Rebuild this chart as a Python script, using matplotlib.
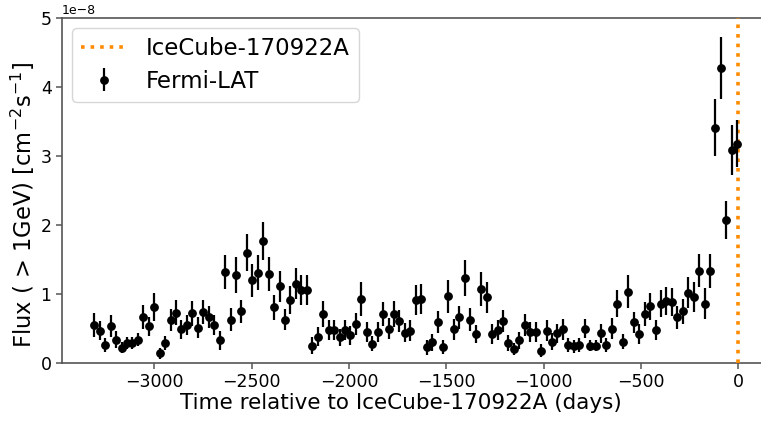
import matplotlib
matplotlib.use("Agg")
import matplotlib.pyplot as plt

# 28-day Fermi-LAT light-curve bins, days relative to the neutrino alert
days = [
    -3309, -3281, -3253, -3225, -3197, -3169, -3141, -3113, -3085, -3057,
    -3029, -3001, -2973, -2945, -2917, -2889, -2861, -2833, -2805, -2777,
    -2749, -2721, -2693, -2665, -2637, -2609, -2581, -2553, -2525, -2497,
    -2469, -2441, -2413, -2385, -2357, -2329, -2301, -2273, -2245, -2217,
    -2189, -2161, -2133, -2105, -2077, -2049, -2021, -1993, -1965, -1937,
    -1909, -1881, -1853, -1825, -1797, -1769, -1741, -1713, -1685, -1657,
    -1629, -1601, -1573, -1545, -1517, -1489, -1461, -1433, -1405, -1377,
    -1349, -1321, -1293, -1265, -1237, -1209, -1181, -1153, -1125, -1097,
    -1069, -1041, -1013, -985, -957, -929, -901, -873, -845, -817,
    -789, -761, -733, -705, -677, -649, -621, -593, -565, -537,
    -509, -481, -453, -425, -397, -369, -341, -313, -285, -257,
    -229, -201, -173, -145, -117, -89, -61, -33, -5,
]

# photon flux above 1 GeV, units of 1e-8 cm^-2 s^-1
flux = [
    0.55, 0.47, 0.26, 0.53, 0.34, 0.22, 0.29, 0.29, 0.34, 0.67,
    0.53, 0.81, 0.14, 0.29, 0.62, 0.73, 0.49, 0.55, 0.72, 0.51,
    0.74, 0.67, 0.55, 0.33, 1.32, 0.63, 1.27, 0.75, 1.60, 1.20,
    1.31, 1.77, 1.29, 0.81, 1.11, 0.63, 0.91, 1.15, 1.06, 1.06,
    0.25, 0.38, 0.71, 0.48, 0.48, 0.37, 0.48, 0.40, 0.57, 0.93,
    0.45, 0.28, 0.45, 0.71, 0.50, 0.71, 0.61, 0.44, 0.47, 0.91,
    0.93, 0.23, 0.30, 0.60, 0.23, 0.97, 0.49, 0.66, 1.23, 0.63,
    0.42, 1.07, 0.95, 0.42, 0.48, 0.61, 0.29, 0.20, 0.33, 0.55,
    0.45, 0.45, 0.18, 0.47, 0.31, 0.43, 0.49, 0.26, 0.24, 0.26,
    0.50, 0.25, 0.25, 0.43, 0.26, 0.50, 0.86, 0.31, 1.03, 0.59,
    0.42, 0.71, 0.82, 0.48, 0.86, 0.90, 0.88, 0.66, 0.75, 1.02,
    0.96, 1.34, 0.86, 1.33, 3.41, 4.28, 2.07, 3.09, 3.18,
]

# 1-sigma flux uncertainties, same units
flux_err = [
    0.17, 0.14, 0.10, 0.16, 0.12, 0.08, 0.09, 0.09, 0.10, 0.17,
    0.14, 0.20, 0.08, 0.10, 0.16, 0.18, 0.14, 0.15, 0.18, 0.15,
    0.17, 0.16, 0.14, 0.14, 0.25, 0.16, 0.26, 0.17, 0.27, 0.24,
    0.25, 0.27, 0.24, 0.18, 0.22, 0.15, 0.20, 0.22, 0.22, 0.22,
    0.12, 0.14, 0.19, 0.15, 0.15, 0.13, 0.15, 0.14, 0.16, 0.25,
    0.14, 0.11, 0.14, 0.18, 0.15, 0.19, 0.16, 0.14, 0.15, 0.22,
    0.22, 0.11, 0.12, 0.16, 0.10, 0.24, 0.15, 0.17, 0.26, 0.17,
    0.13, 0.25, 0.22, 0.14, 0.15, 0.16, 0.12, 0.09, 0.12, 0.16,
    0.15, 0.15, 0.10, 0.15, 0.12, 0.14, 0.15, 0.10, 0.09, 0.10,
    0.14, 0.08, 0.08, 0.14, 0.10, 0.15, 0.20, 0.11, 0.24, 0.15,
    0.14, 0.18, 0.20, 0.15, 0.20, 0.20, 0.20, 0.17, 0.18, 0.22,
    0.22, 0.24, 0.22, 0.25, 0.41, 0.45, 0.28, 0.36, 0.34,
]

alert_day = 0
scale = 1e-8

x_limits = (-3475, 175)
y_limits = (0, 5e-8)
x_ticks = [-3000, -2500, -2000, -1500, -1000, -500, 0]
y_ticks = [0, 1e-8, 2e-8, 3e-8, 4e-8, 5e-8]

plt.rcParams["font.family"] = "DejaVu Sans"

fig = plt.figure(figsize=(7.61, 4.23), dpi=100)
ax_left, ax_bottom, ax_w, ax_h = 62, 60, 710.3, 345
ax = fig.add_axes([ax_left / 761, ax_bottom / 423, ax_w / 761, ax_h / 423])

ax.axvline(alert_day, color="#ff8c00", linestyle=":", linewidth=2.6,
           label="IceCube-170922A", zorder=3)
ax.errorbar(days, [f * scale for f in flux], yerr=[e * scale for e in flux_err],
            fmt="o", color="black", markersize=5.3, elinewidth=1.6, capsize=0,
            label="Fermi-LAT", zorder=4)

ax.set_xlim(*x_limits)
ax.set_ylim(*y_limits)
ax.set_xticks(x_ticks)
ax.set_yticks(y_ticks)

for side in ("left", "bottom", "top"):
    ax.spines[side].set_color("#555555")
    ax.spines[side].set_linewidth(1.2)
ax.spines["right"].set_visible(False)
ax.tick_params(axis="both", labelsize=12.5, color="#555555", length=4, width=1.1)
ax.yaxis.get_offset_text().set_fontsize(9)

# axis titles placed in pixel terms relative to the axes box
ax.set_xlabel("Time relative to IceCube-170922A (days)", fontsize=15.5)
ax.xaxis.set_label_coords((401 - ax_left) / ax_w, -30 / ax_h, transform=ax.transAxes)
ax.xaxis.label.set_verticalalignment("top")
ax.set_ylabel(r"Flux ( > 1GeV) [cm$^{-2}$s$^{-1}$]", fontsize=16.3)
ax.yaxis.set_label_coords(-(ax_left - 37) / ax_w, (423 - 205 - ax_bottom) / ax_h,
                          transform=ax.transAxes)

leg = ax.legend(loc="upper left", fontsize=16.5, frameon=True, fancybox=True,
                handlelength=2.0, borderpad=0.4, labelspacing=0.4,
                borderaxespad=0.45)
leg.get_frame().set_edgecolor("#cccccc")
leg.get_frame().set_linewidth(1.0)

fig.savefig("out.png", dpi=100)
